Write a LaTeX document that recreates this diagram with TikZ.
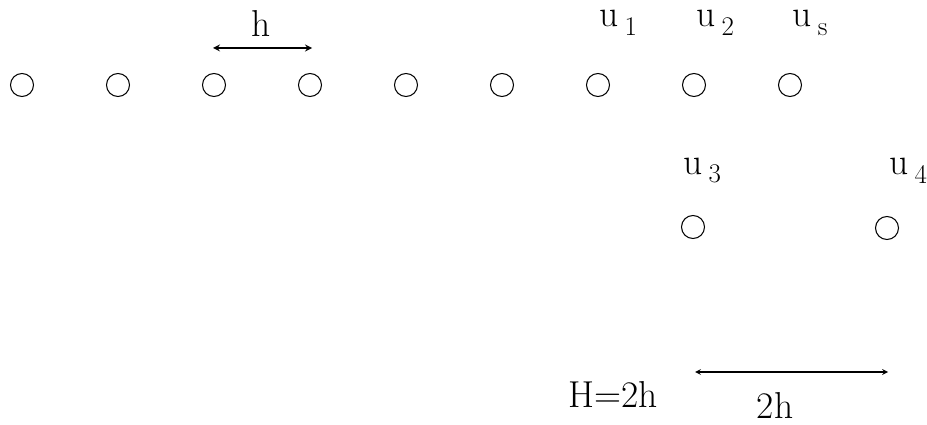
\documentclass[tikz,border=0pt]{standalone}
\usepackage{tikz}
\usetikzlibrary{arrows}

\newcommand{\usub}[1]{u\,\lower7pt\hbox{\fontsize{23}{26}\selectfont #1}}

\begin{document}
\begin{tikzpicture}[
    x=0.03cm, y=-0.03cm,
    every node/.style={font=\fontsize{32}{36}\selectfont, inner sep=0pt},
    dot/.style={circle, draw, line width=0.9pt, minimum size=0.69cm},
    dim/.style={<->, >=stealth, line width=1.6pt},
    lbl/.style={anchor=base}
]
\useasboundingbox (0,0) rectangle (927,425);
% grid points of the fine row
\foreach \i in {0,...,8} \node (p\i) [dot] at (22+96*\i,85) {};
\node (q3) [dot] at (693,227) {};
\node (q4) [dot] at (887,228) {};
% labels
\node (u1) [lbl] at (618,27) {\usub{1}};
\node (u2) [lbl] at (715,27) {\usub{2}};
\node (us) [lbl] at (810,27) {\usub{s}};
\node (u3) [lbl] at (702,174) {\usub{3}};
\node (u4) [lbl] at (908,175) {\usub{4}};
% spacings
\coordinate (ha) at (213,48); \coordinate (hb) at (312,48);
\draw [dim] (ha) -- (hb);
\node (hlbl) [lbl] at (261,37) {h};
\coordinate (Ha) at (695,372); \coordinate (Hb) at (888,372);
\draw [dim, line width=1.2pt] (Ha) -- (Hb);
\node (Hlbl) [lbl] at (775,418) {2h};
\node (Heq) [lbl] at (613,407) {H=2h};
\end{tikzpicture}
\end{document}
